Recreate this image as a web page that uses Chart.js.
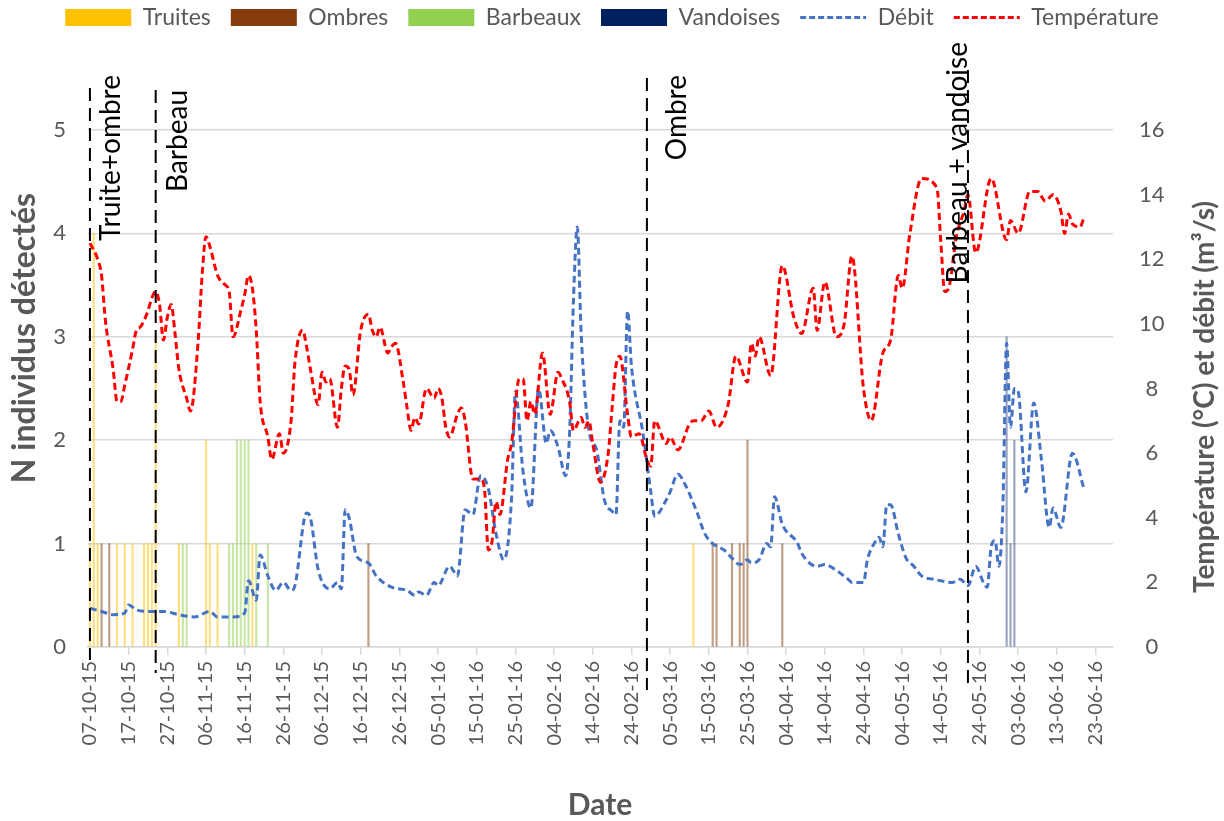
<!DOCTYPE html>
<html>
<head>
<meta charset="utf-8">
<script src="https://cdn.jsdelivr.net/npm/chart.js@4.4.1/dist/chart.umd.min.js"></script>
<style>
  html, body { margin: 0; padding: 0; background: #fff; }
  #wrap { width: 1224px; height: 821px; }
</style>
</head>
<body>
<div id="wrap"><canvas id="chart" width="1224" height="821"></canvas></div>
<script>
// jour 0 = 07-10-15
const xTickDays = [0, 10, 20, 30, 40, 50, 60, 70, 80, 90, 100, 110, 120, 130, 140, 150, 160, 170, 180, 190, 200, 210, 220, 230, 240, 250, 260];

// détections (N individus) par jour
const truiteDays = [0, 1, 2, 7, 9, 11, 14, 15, 16, 17, 23, 30, 31, 33, 42, 156];
const truiteCounts = [1, 4, 1, 1, 1, 1, 1, 1, 1, 3, 1, 2, 1, 1, 1, 1];
const ombreDays = [3, 5, 72, 161, 162, 166, 168, 169, 170, 179];
const ombreCounts = [1, 1, 1, 1, 1, 1, 1, 1, 2, 1];
const barbeauDays = [24, 25, 36, 37, 38, 39, 40, 41, 43, 46];
const barbeauCounts = [1, 1, 1, 1, 2, 2, 2, 2, 1, 1];
const vandoiseDays = [237, 238, 239];
const vandoiseCounts = [3, 1, 2];

// débit (m³/s)
const debitDays = [0, 3, 6, 9, 10, 12, 16, 19, 23, 27, 31, 33, 37, 40, 41, 43, 44, 46, 48, 50, 52, 53, 56, 57, 59, 62, 64, 65, 66, 67, 69, 72, 74, 78, 82, 84, 85, 87, 89, 90, 93, 95, 97, 99, 101, 103, 105, 107, 109, 110, 112, 114, 116, 118, 119, 121, 123, 124, 125, 126, 127, 129, 131, 133, 135, 136, 137, 138, 139, 140, 143, 145, 146, 149, 150, 152, 154, 157, 159, 161, 164, 166, 168, 170, 171, 173, 175, 176, 177, 179, 183, 184, 188, 190, 192, 196, 197, 200, 201, 203, 204, 205, 206, 207, 209, 211, 213, 215, 218, 223, 225, 227, 229, 231, 232, 233, 234, 235, 236, 237, 238, 239, 240, 242, 244, 246, 248, 249, 251, 254, 257];
const debitValues = [1.2, 1.1, 1.0, 1.05, 1.3, 1.15, 1.1, 1.1, 1.0, 0.93, 1.1, 0.93, 0.93, 1.05, 2.05, 1.45, 2.85, 2.2, 1.75, 2.0, 1.75, 1.9, 4.15, 4.0, 2.4, 1.8, 2.0, 1.8, 4.25, 4.0, 2.8, 2.6, 2.2, 1.85, 1.75, 1.6, 1.7, 1.6, 2.0, 1.9, 2.5, 2.2, 4.25, 4.1, 5.3, 4.9, 3.5, 2.7, 4.6, 7.9, 5.4, 4.3, 8.0, 6.3, 6.7, 6.2, 5.3, 6.6, 10.7, 13.0, 9.7, 6.7, 6.1, 4.55, 4.2, 4.1, 7.0, 6.8, 10.4, 8.7, 6.6, 4.8, 4.05, 4.55, 4.8, 5.35, 5.0, 4.15, 3.5, 3.2, 3.0, 2.75, 2.55, 2.7, 2.6, 2.7, 3.2, 3.1, 4.65, 3.8, 3.2, 2.9, 2.5, 2.55, 2.45, 2.1, 2.0, 2.0, 2.7, 3.25, 3.4, 3.1, 4.4, 4.4, 3.5, 2.75, 2.5, 2.2, 2.1, 2.0, 2.1, 1.9, 2.5, 2.0, 1.85, 3.1, 3.3, 2.5, 4.25, 9.4, 6.8, 8.0, 7.9, 4.8, 7.55, 5.8, 3.7, 4.3, 3.7, 6.0, 4.9];

// température (°C)
const tempDays = [0, 2, 3, 4, 6, 7, 8, 9, 11, 12, 13, 15, 16, 17, 18, 19, 20, 21, 22, 23, 25, 26, 28, 29, 30, 31, 33, 35, 36, 37, 39, 40, 41, 42, 43, 44, 46, 47, 49, 50, 52, 53, 55, 56, 57, 59, 60, 61, 62, 64, 65, 66, 67, 68, 70, 72, 73, 74, 75, 77, 78, 79, 81, 82, 83, 84, 85, 87, 89, 90, 91, 92, 93, 95, 96, 97, 99, 101, 102, 103, 104, 105, 106, 108, 109, 111, 112, 113, 114, 115, 117, 119, 121, 122, 124, 125, 127, 128, 129, 130, 132, 134, 135, 136, 137, 139, 140, 142, 144, 145, 146, 149, 150, 152, 155, 156, 158, 160, 162, 165, 167, 170, 171, 172, 173, 176, 179, 182, 184, 187, 188, 190, 193, 195, 197, 200, 202, 205, 207, 209, 210, 212, 215, 219, 220, 221, 222, 224, 226, 227, 229, 233, 237, 238, 240, 243, 245, 247, 249, 251, 252, 253, 254, 256, 257];
const tempValues = [12.5, 12.0, 11.5, 10.1, 8.6, 7.6, 7.6, 8.1, 9.2, 9.8, 9.9, 10.4, 10.8, 11.0, 10.6, 9.5, 10.2, 10.6, 9.7, 8.6, 7.7, 7.3, 9.5, 11.5, 12.7, 12.4, 11.5, 11.2, 11.0, 9.6, 10.4, 10.9, 11.5, 11.1, 9.8, 7.6, 6.5, 5.8, 6.6, 6.0, 7.0, 8.8, 9.8, 9.3, 8.6, 7.5, 8.5, 8.2, 8.3, 6.8, 8.0, 8.7, 8.6, 7.8, 9.8, 10.3, 9.8, 9.6, 9.9, 9.1, 9.3, 9.4, 8.2, 7.4, 6.7, 7.1, 6.9, 8.0, 7.7, 8.0, 7.7, 6.8, 6.5, 7.2, 7.4, 7.0, 5.2, 5.2, 4.9, 3.0, 3.3, 4.5, 4.1, 5.8, 6.3, 8.3, 8.3, 7.0, 7.6, 7.2, 9.1, 7.2, 8.5, 8.3, 7.6, 6.7, 7.1, 6.8, 7.0, 6.3, 5.1, 6.0, 7.4, 8.7, 9.0, 7.2, 6.5, 6.6, 5.8, 5.6, 7.0, 6.3, 6.5, 6.1, 6.9, 7.0, 7.0, 7.3, 6.8, 7.5, 9.0, 8.2, 9.4, 9.0, 9.6, 8.4, 11.8, 10.2, 9.7, 11.1, 9.8, 11.3, 9.6, 10.0, 12.1, 8.0, 7.0, 9.1, 9.5, 11.5, 11.1, 12.8, 14.5, 14.2, 12.5, 11.0, 11.1, 12.7, 13.5, 14.0, 12.2, 14.5, 12.6, 13.2, 12.8, 14.1, 14.1, 13.8, 14.0, 13.5, 12.8, 13.4, 13.1, 13.0, 13.3];

// événements (traits verticaux)
const eventDays = [0, 17, 144, 227];
const eventLabels = ['Truite+ombre', 'Barbeau', 'Ombre', 'Barbeau + vandoise'];

// style des événements (pixels)
const eventLineTop = [88, 90, 78, 70];
const eventLineBottom = [660, 673, 690, 683];
const eventLabelDx = [21, 22, 30, -10];
const eventLabelTop = [75, 90, 75, 42];

const CHART_TOP = 130;
const GRAY = '#595959';
const FONT = 'Lato';

function pairs(days, values) {
    return days.map((d, i) => ({ x: d, y: values[i] }));
}

function dayLabel(d) {
    const dt = new Date(2015, 9, 7 + d);
    const p = n => String(n).padStart(2, '0');
    return p(dt.getDate()) + '-' + p(dt.getMonth() + 1) + '-' + p(dt.getFullYear() % 100);
}

function barSet(label, days, counts, color, legendColor) {
    return {
        type: 'bar', label: label, data: pairs(days, counts),
        backgroundColor: color, legendColor: legendColor,
        barThickness: 1.5, grouped: false, borderWidth: 0,
        xAxisID: 'x', yAxisID: 'y', pointStyle: 'rect', order: 3
    };
}

// traits pointillés, étiquettes et titres d'axes
const overlayPlugin = {
    id: 'overlay',
    afterDraw(chart) {
        const ctx = chart.ctx;
        const xs = chart.scales.x;
        ctx.save();
        eventDays.forEach((d, i) => {
            const px = xs.getPixelForValue(d);
            ctx.strokeStyle = '#000';
            ctx.lineWidth = 2;
            ctx.setLineDash([13, 7]);
            ctx.beginPath();
            ctx.moveTo(px, eventLineTop[i]);
            ctx.lineTo(px, eventLineBottom[i]);
            ctx.stroke();
            ctx.setLineDash([]);

            ctx.save();
            ctx.translate(px + eventLabelDx[i], eventLabelTop[i]);
            ctx.rotate(-Math.PI / 2);
            ctx.font = '28px ' + FONT;
            ctx.fillStyle = '#000';
            ctx.textAlign = 'right';
            ctx.textBaseline = 'middle';
            ctx.fillText(eventLabels[i], 0, 0);
            ctx.restore();
        });

        ctx.fillStyle = GRAY;
        ctx.textAlign = 'center';
        ctx.textBaseline = 'middle';

        ctx.save();
        ctx.font = 'bold 32px ' + FONT;
        ctx.translate(25, 338);
        ctx.rotate(-Math.PI / 2);
        ctx.fillText('N individus détectés', 0, 0);
        ctx.restore();

        ctx.save();
        ctx.font = 'bold 28px ' + FONT;
        ctx.translate(1205, 397);
        ctx.rotate(-Math.PI / 2);
        ctx.fillText('Température (°C) et débit (m³/s)', 0, 0);
        ctx.restore();

        ctx.font = 'bold 30px ' + FONT;
        ctx.fillText('Date', 600, 805);
        ctx.restore();
    }
};

const ctx = document.getElementById('chart');
new Chart(ctx, {
    data: {
        datasets: [
            barSet('Truites', truiteDays, truiteCounts, 'rgba(255,192,0,0.5)', '#FFC000'),
            barSet('Ombres', ombreDays, ombreCounts, 'rgba(132,60,12,0.5)', '#843C0C'),
            barSet('Barbeaux', barbeauDays, barbeauCounts, 'rgba(146,208,80,0.5)', '#92D050'),
            barSet('Vandoises', vandoiseDays, vandoiseCounts, 'rgba(0,32,96,0.4)', '#002060'),
            {
                type: 'line', label: 'Débit', data: pairs(debitDays, debitValues),
                borderColor: '#4472C4', backgroundColor: '#4472C4',
                borderWidth: 3, borderDash: [7, 4], pointRadius: 0,
                cubicInterpolationMode: 'monotone',
                xAxisID: 'x', yAxisID: 'y1', pointStyle: 'line', order: 1
            },
            {
                type: 'line', label: 'Température', data: pairs(tempDays, tempValues),
                borderColor: '#FF0000', backgroundColor: '#FF0000',
                borderWidth: 3, borderDash: [7, 4], pointRadius: 0,
                cubicInterpolationMode: 'monotone',
                xAxisID: 'x', yAxisID: 'y1', pointStyle: 'line', order: 0
            }
        ]
    },
    options: {
        responsive: false,
        animation: false,
        devicePixelRatio: 1,
        layout: { autoPadding: false, padding: { top: -14, left: 0, right: 0, bottom: 0 } },
        plugins: {
            tooltip: { enabled: false },
            legend: {
                position: 'top',
                labels: {
                    font: { family: FONT, size: 23 },
                    color: GRAY,
                    usePointStyle: true,
                    pointStyleWidth: 66,
                    boxHeight: 17,
                    padding: 20,
                    sort: (a, b) => a.datasetIndex - b.datasetIndex,
                    generateLabels: (chart) => {
                        const items = Chart.defaults.plugins.legend.labels.generateLabels(chart);
                        items.forEach(it => {
                            const ds = chart.data.datasets[it.datasetIndex];
                            if (ds.legendColor) {
                                it.fillStyle = ds.legendColor;
                                it.strokeStyle = ds.legendColor;
                                it.lineWidth = 0;
                            } else {
                                it.strokeStyle = ds.borderColor;
                                it.lineWidth = 3;
                                it.lineDash = [6, 3];
                            }
                            it.fontColor = GRAY;
                        });
                        return items;
                    }
                }
            }
        },
        scales: {
            x: {
                type: 'linear',
                position: 'bottom',
                offset: false,
                min: -0.5,
                max: 264.5,
                afterBuildTicks: s => { s.ticks = xTickDays.map(v => ({ value: v })); },
                afterFit: s => { s.height = 174; s.paddingLeft = 0; s.paddingRight = 0; },
                ticks: {
                    callback: v => dayLabel(v),
                    minRotation: 90, maxRotation: 90,
                    autoSkip: false,
                    padding: 6,
                    color: GRAY,
                    font: { family: FONT, size: 20 }
                },
                grid: { offset: false, drawOnChartArea: false, drawTicks: true, tickLength: 8, color: '#d9d9d9', lineWidth: 1.5 },
                border: { display: true, color: '#d9d9d9', width: 1.5 }
            },
            xTop: {
                type: 'linear',
                position: 'top',
                offset: false,
                grid: { display: false, offset: false },
                border: { display: false },
                ticks: { display: false },
                afterFit: s => {
                    const top = s.chart.options.layout.padding.top + s.chart.legend.height;
                    s.height = Math.max(0, CHART_TOP - top);
                    s.paddingLeft = 0; s.paddingRight = 0;
                }
            },
            y: {
                type: 'linear',
                position: 'left',
                min: 0, max: 5,
                ticks: { stepSize: 1, padding: 22, color: GRAY, font: { family: FONT, size: 22 } },
                grid: { color: '#d9d9d9', lineWidth: 1.5, drawTicks: false },
                border: { display: false },
                afterFit: s => { s.width = 88; }
            },
            y1: {
                type: 'linear',
                position: 'right',
                min: 0, max: 16,
                ticks: { stepSize: 2, padding: 26, crossAlign: 'center', color: GRAY, font: { family: FONT, size: 22 } },
                grid: { display: false, drawTicks: false },
                border: { display: false },
                afterFit: s => { s.width = 111; }
            }
        }
    },
    plugins: [overlayPlugin]
});
</script>
</body>
</html>
